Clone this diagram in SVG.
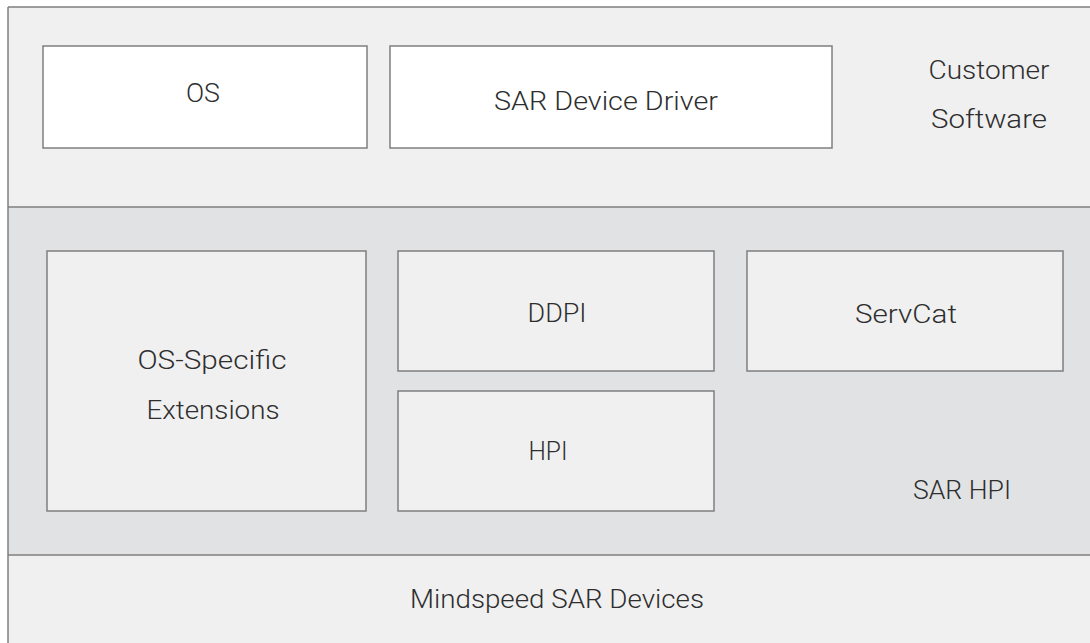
<svg xmlns="http://www.w3.org/2000/svg" width="1090" height="643" viewBox="0 0 1090 643">
  <style>
    .band { stroke: #7f7f7f; stroke-width: 1.5; }
    .top { fill: #f0f0f0; }
    .mid { fill: #e1e2e4; }
    .box { stroke: #7f7f7f; stroke-width: 1.5; }
    .white { fill: #ffffff; }
    .light { fill: #f0f0f0; }
    .label { font-family: Roboto, "Liberation Sans", sans-serif; font-weight: 300; font-size: 26px; fill: #2e2e2e; text-anchor: middle; }
  </style>

  <!-- layer bands -->
  <g id="bands">
    <rect class="top" x="8" y="7" width="1090" height="200"/>
    <rect class="mid" x="8" y="207" width="1090" height="348"/>
    <rect class="top" x="8" y="555" width="1090" height="100"/>
    <line class="band" x1="8" y1="7" x2="1090" y2="7"/>
    <line class="band" x1="8" y1="207" x2="1090" y2="207"/>
    <line class="band" x1="8" y1="555" x2="1090" y2="555"/>
    <line class="band" x1="8" y1="7" x2="8" y2="643"/>
  </g>

  <!-- customer software layer -->
  <g id="os">
    <rect class="box white" x="43" y="46" width="324" height="102"/>
    <text class="label" x="203" y="102" textLength="34" lengthAdjust="spacingAndGlyphs">OS</text>
  </g>
  <g id="sar-device-driver">
    <rect class="box white" x="390" y="46" width="442" height="102"/>
    <text class="label" x="606" y="110" textLength="224" lengthAdjust="spacingAndGlyphs">SAR Device Driver</text>
  </g>
  <g id="customer-software">
    <text class="label" x="989" y="79" textLength="121" lengthAdjust="spacingAndGlyphs">Customer</text>
    <text class="label" x="989" y="128" textLength="116" lengthAdjust="spacingAndGlyphs">Software</text>
  </g>

  <!-- SAR HPI layer -->
  <g id="os-specific-extensions">
    <rect class="box light" x="47" y="251" width="319" height="260"/>
    <text class="label" x="212" y="369" textLength="149" lengthAdjust="spacingAndGlyphs">OS-Specific</text>
    <text class="label" x="213" y="419" textLength="133" lengthAdjust="spacingAndGlyphs">Extensions</text>
  </g>
  <g id="ddpi">
    <rect class="box light" x="398" y="251" width="316" height="120"/>
    <text class="label" x="557" y="322" textLength="59" lengthAdjust="spacingAndGlyphs">DDPI</text>
  </g>
  <g id="servcat">
    <rect class="box light" x="747" y="251" width="316" height="120"/>
    <text class="label" x="906" y="323" textLength="102" lengthAdjust="spacingAndGlyphs">ServCat</text>
  </g>
  <g id="hpi">
    <rect class="box light" x="398" y="391" width="316" height="120"/>
    <text class="label" x="548" y="460" textLength="39" lengthAdjust="spacingAndGlyphs">HPI</text>
  </g>
  <g id="sar-hpi">
    <text class="label" x="962" y="499" textLength="98" lengthAdjust="spacingAndGlyphs">SAR HPI</text>
  </g>

  <!-- device layer -->
  <g id="mindspeed-sar-devices">
    <text class="label" x="557" y="608" textLength="294" lengthAdjust="spacingAndGlyphs">Mindspeed SAR Devices</text>
  </g>

  <g id="connectors"/>
</svg>
